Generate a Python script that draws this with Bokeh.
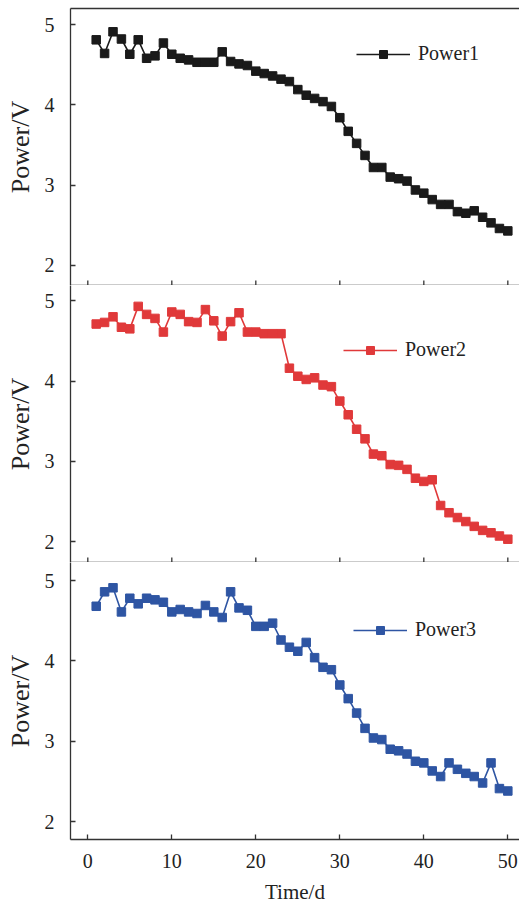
from bokeh.plotting import figure
from bokeh.layouts import column
from bokeh.models import Legend, LegendItem, LinearAxis, FixedTicker, Range1d
from bokeh.embed import file_html
from bokeh.resources import INLINE

days = list(range(1, 51))
power1 = [4.81, 4.64, 4.91, 4.82, 4.63, 4.81, 4.58, 4.61, 4.77, 4.63,
          4.58, 4.56, 4.53, 4.53, 4.53, 4.66, 4.54, 4.51, 4.49, 4.42,
          4.39, 4.36, 4.32, 4.29, 4.19, 4.12, 4.08, 4.04, 3.98, 3.84,
          3.67, 3.52, 3.37, 3.22, 3.22, 3.10, 3.08, 3.05, 2.94, 2.90,
          2.82, 2.76, 2.76, 2.67, 2.65, 2.68, 2.60, 2.53, 2.46, 2.43]
power2 = [4.71, 4.73, 4.80, 4.67, 4.65, 4.93, 4.83, 4.78, 4.61, 4.86,
          4.83, 4.74, 4.73, 4.89, 4.75, 4.56, 4.74, 4.85, 4.61, 4.61,
          4.59, 4.59, 4.59, 4.16, 4.06, 4.02, 4.04, 3.95, 3.93, 3.75,
          3.58, 3.40, 3.28, 3.09, 3.07, 2.96, 2.95, 2.90, 2.79, 2.75,
          2.77, 2.45, 2.36, 2.30, 2.25, 2.19, 2.14, 2.11, 2.07, 2.03]
power3 = [4.68, 4.86, 4.91, 4.61, 4.78, 4.71, 4.78, 4.76, 4.73, 4.61,
          4.64, 4.61, 4.59, 4.69, 4.61, 4.54, 4.86, 4.66, 4.63, 4.43,
          4.43, 4.47, 4.26, 4.17, 4.12, 4.23, 4.04, 3.92, 3.89, 3.70,
          3.53, 3.35, 3.16, 3.04, 3.02, 2.90, 2.88, 2.84, 2.75, 2.73,
          2.63, 2.56, 2.73, 2.65, 2.60, 2.56, 2.48, 2.73, 2.41, 2.38]
series_names = ["Power1", "Power2", "Power3"]
x_ticks = [0, 10, 20, 30, 40, 50]
y_ticks = [2, 3, 4, 5]
x_label = "Time/d"
y_label = "Power/V"

colors = ["#1a1a1a", "#e0393a", "#2e55a3"]
FONT = "Liberation Serif"
TXT = "#222222"
AX = "#333333"

y_ranges = [(1.75, 5.20), (1.74, 5.19), (1.776, 5.225)]
legend_pos = [(286, 220), (273, 201), (283, 198)]


def make_panel(i, vals, top=False, bottom=False):
    lo, hi = y_ranges[i]
    p = figure(frame_width=449, frame_height=277,
               x_range=Range1d(-2.06, 51.39), y_range=Range1d(lo, hi),
               output_backend="svg", toolbar_location=None,
               min_border_left=70, min_border_right=0,
               min_border_top=8 if top else 0,
               min_border_bottom=0)
    p.outline_line_color = None
    p.grid.visible = False
    p.background_fill_color = "white"

    rl = p.line(days, vals, line_color=colors[i], line_width=1.6)
    rs = p.scatter(days, vals, marker="square", size=8.5,
                   fill_color=colors[i], line_color=colors[i])

    xa = p.xaxis[0]
    xa.minor_tick_line_color = None
    xa.axis_line_color = AX
    xa.axis_line_width = 1.3
    xa.major_tick_line_color = AX
    xa.major_tick_line_width = 1.3
    if bottom:
        xa.ticker = FixedTicker(ticks=x_ticks)
        xa.major_tick_in = 5
        xa.major_tick_out = 0
        xa.major_label_text_font = FONT
        xa.major_label_text_font_size = "20px"
        xa.major_label_text_color = TXT
        xa.major_label_standoff = 14
        xa.axis_label = x_label
        xa.axis_label_text_font = FONT
        xa.axis_label_text_font_size = "21px"
        xa.axis_label_text_font_style = "normal"
        xa.axis_label_text_color = TXT
        xa.axis_label_standoff = 9
    else:
        # axis line only; inward ticks drawn as short screen-length rays
        xa.ticker = FixedTicker(ticks=[])
        xa.major_tick_in = 0
        xa.major_tick_out = 0
        xa.major_label_standoff = 0
        p.ray(x=x_ticks, y=[lo] * len(x_ticks), length=5, length_units="screen",
              angle=90, angle_units="deg", line_color=AX, line_width=1.3)

    ya = p.yaxis[0]
    ya.ticker = FixedTicker(ticks=y_ticks)
    ya.major_tick_in = 5
    ya.major_tick_out = 0
    ya.minor_tick_line_color = None
    ya.axis_line_color = AX
    ya.axis_line_width = 1.3
    ya.major_tick_line_color = AX
    ya.major_tick_line_width = 1.3
    ya.major_label_text_font = FONT
    ya.major_label_text_font_size = "20px"
    ya.major_label_text_color = TXT
    ya.major_label_standoff = 16
    ya.axis_label = y_label
    ya.axis_label_text_font = FONT
    ya.axis_label_text_font_size = "26px"
    ya.axis_label_text_font_style = "normal"
    ya.axis_label_text_color = TXT
    ya.axis_label_standoff = 7

    if top:
        ta = LinearAxis(ticker=FixedTicker(ticks=[]),
                        major_label_standoff=0,
                        major_tick_in=0, major_tick_out=0,
                        minor_tick_line_color=None,
                        axis_line_color=AX, axis_line_width=1.3)
        p.add_layout(ta, "above")

    legend = Legend(items=[LegendItem(label=series_names[i], renderers=[rl, rs])],
                    location=legend_pos[i], glyph_width=54, glyph_height=20,
                    label_standoff=8, padding=0, margin=0, spacing=0,
                    border_line_color=None, background_fill_alpha=0,
                    label_text_font=FONT, label_text_font_size="20px",
                    label_text_color=TXT, label_height=20)
    p.add_layout(legend)
    return p


p1 = make_panel(0, power1, top=True)
p2 = make_panel(1, power2)
p3 = make_panel(2, power3, bottom=True)

layout = column(p1, p2, p3, spacing=0)
open("out.html", "w").write(file_html(layout, INLINE))
